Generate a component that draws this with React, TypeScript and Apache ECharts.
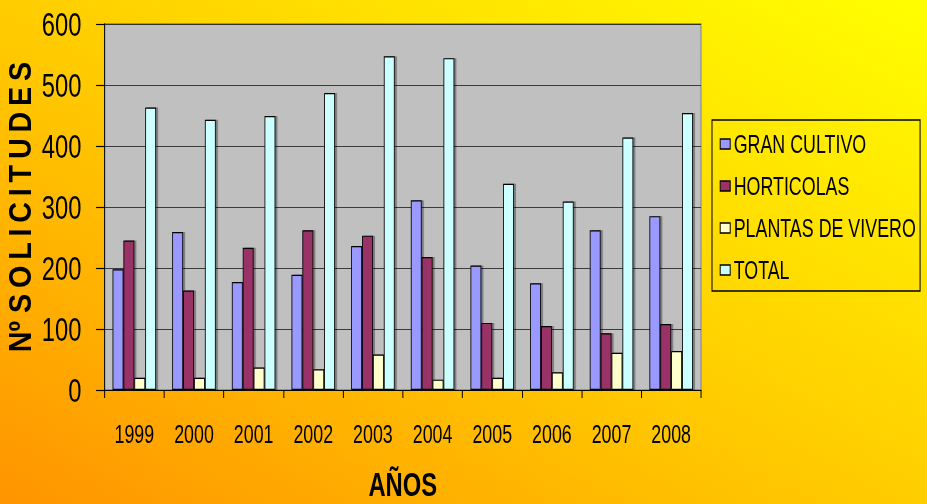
import React, { useEffect, useRef } from "react";
import * as echarts from "echarts";

const categories = ["1999", "2000", "2001", "2002", "2003", "2004", "2005", "2006", "2007", "2008"];
const granCultivo = [198, 259, 177, 189, 236, 311, 204, 175, 262, 285];
const horticolas = [245, 163, 233, 262, 253, 218, 110, 105, 93, 108];
const plantasVivero = [20, 20, 37, 34, 58, 17, 20, 29, 61, 64];
const total = [463, 443, 449, 487, 547, 544, 338, 309, 414, 454];
const yTicks = { min: 0, max: 600, interval: 100 };

const S = 0.7; // horizontal squash of the whole drawing
const W = 927 / S;
const H = 504;
const FONT = '"Liberation Sans", Arial, sans-serif';
const TS = "\u2009";
const Y_TITLE = "Nº " + "SOLICITUDES".split("").join(TS);

export default function App() {
  const ref = useRef<HTMLDivElement>(null);
  useEffect(() => {
    if (!ref.current) return;
    const chart = echarts.init(ref.current, null, { renderer: "svg", width: W, height: H });
    const bar = (name: string, data: number[], color: string) => ({
      name,
      type: "bar",
      data,
      barGap: "0%",
      barCategoryGap: "27%",
      itemStyle: {
        color,
        borderColor: "#000",
        borderWidth: 1.2,
        shadowColor: "rgba(0,0,0,0.35)",
        shadowOffsetX: 3,
        shadowOffsetY: 0,
        shadowBlur: 0,
      },
    });
    chart.setOption({
      animation: false,
      backgroundColor: "transparent",
      textStyle: { fontFamily: FONT },
      grid: {
        left: 104.5 / S,
        right: W - 701 / S,
        top: 24,
        bottom: H - 390,
        containLabel: false,
        outerBoundsMode: "none",
        show: true,
        backgroundColor: "#C0C0C0",
        borderColor: "#808080",
        borderWidth: 1.4,
      },
      legend: {
        orient: "vertical",
        left: 712 / S,
        top: 120,
        itemWidth: 10 / S,
        itemHeight: 10,
        itemGap: 16,
        padding: [11, 6, 8, 11],
        borderColor: "#000",
        borderWidth: 1.4,
        icon: "rect",
        textStyle: { fontSize: 25.5, color: "#000", fontFamily: FONT, padding: [0, 0, 0, 0] },
        data: ["GRAN CULTIVO", "HORTICOLAS", "PLANTAS DE VIVERO", "TOTAL"],
        itemStyle: { borderColor: "#000", borderWidth: 1.4 },
      },
      xAxis: {
        type: "category",
        data: categories,
        boundaryGap: true,
        name: "AÑOS",
        nameLocation: "middle",
        nameGap: 77,
        nameTextStyle: { fontSize: 34, fontWeight: "bold", color: "#000", fontFamily: FONT },
        axisLine: { lineStyle: { color: "#000", width: 1.2 } },
        axisTick: { show: true, length: 8, lineStyle: { color: "#000", width: 1.4 } },
        axisLabel: { fontSize: 25.5, color: "#000", margin: 31, fontFamily: FONT },
        splitLine: { show: false },
      },
      yAxis: {
        type: "value",
        min: yTicks.min,
        max: yTicks.max,
        interval: yTicks.interval,
        axisLine: { show: true, lineStyle: { color: "#000", width: 1.4 } },
        axisTick: { show: true, length: 12, lineStyle: { color: "#000", width: 1.2 } },
        axisLabel: { fontSize: 34, color: "#000", margin: 33, fontFamily: FONT },
        splitLine: { show: true, lineStyle: { color: "#222", width: 1 } },
      },
      graphic: [
        {
          type: "text",
          x: 19 / S,
          y: 207,
          rotation: Math.PI / 2,
          scaleX: 0.9,
          scaleY: 1 / S,
          style: {
            text: Y_TITLE,
            fontSize: 32,
            fontWeight: "bold",
            fontFamily: FONT,
            fill: "#000",
            align: "center",
            verticalAlign: "middle",
          },
        },
      ],
      series: [
        bar("GRAN CULTIVO", granCultivo, "#9999FF"),
        bar("HORTICOLAS", horticolas, "#993366"),
        bar("PLANTAS DE VIVERO", plantasVivero, "#FFFFCC"),
        bar("TOTAL", total, "#CCFFFF"),
      ],
    });
    return () => chart.dispose();
  }, []);
  return (
    <div
      style={{
        position: "fixed",
        left: 0,
        top: 0,
        width: 927,
        height: 504,
        overflow: "hidden",
        background: "linear-gradient(to top right, #FF9400 0%, #FFC800 45%, #FFFF00 100%)",
      }}
    >
      <div
        ref={ref}
        style={{
          width: W,
          height: H,
          transform: `scaleX(${S})`,
          transformOrigin: "0 0",
        }}
      />
    </div>
  );
}
